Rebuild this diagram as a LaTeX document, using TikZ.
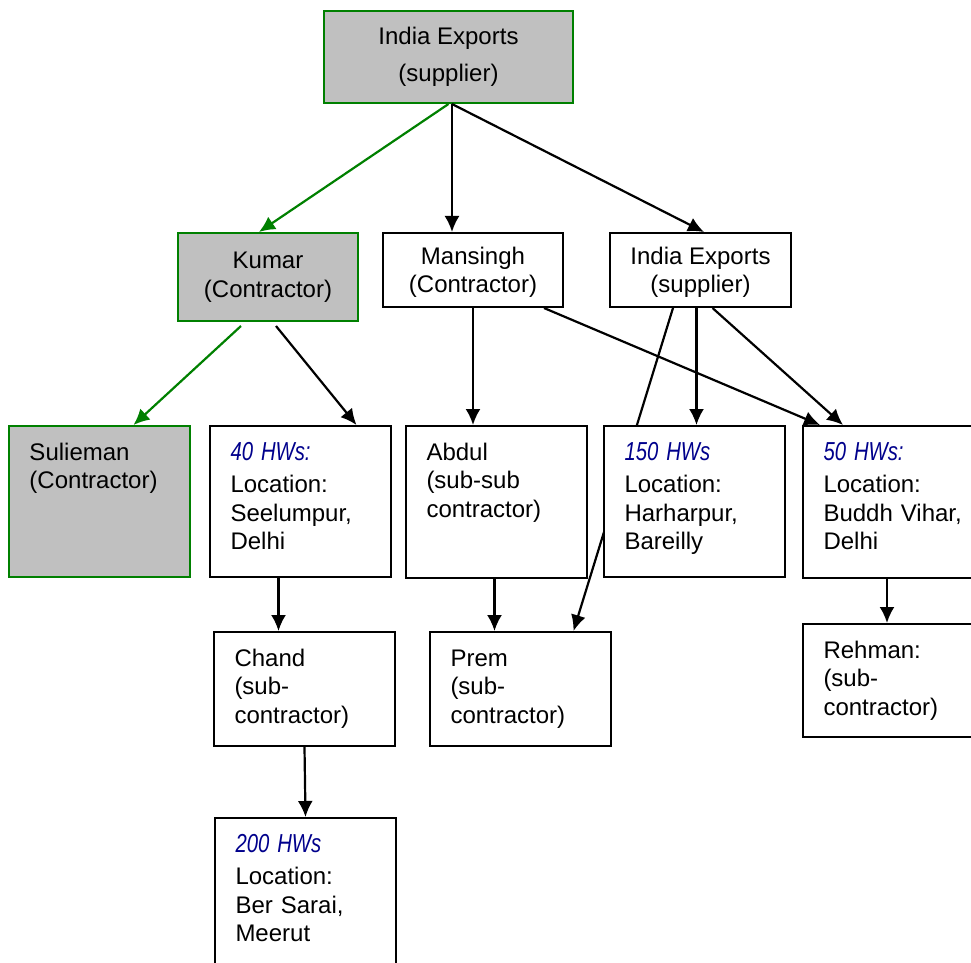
\documentclass[tikz,border=0pt]{standalone}
\usepackage{fontspec}
\setmainfont{Liberation Sans}
\newfontfamily\hwfont[FakeStretch=0.78]{Liberation Sans}
\usetikzlibrary{arrows.meta,backgrounds}

\definecolor{boxgreen}{RGB}{0,128,0}
\definecolor{boxgrey}{RGB}{192,192,192}
\definecolor{hwblue}{RGB}{0,0,140}
\newcommand{\hws}[1]{{\hwfont\itshape\fontsize{13}{14.25}\selectfont\color{hwblue}#1}}

\begin{document}
\begin{tikzpicture}[x=0.5pt,y=-0.5pt,
	font=\fontsize{12}{14.25}\selectfont,
	box/.style={draw,line width=1pt,fill=white,anchor=north west,inner sep=0pt},
	lbox/.style={box,align=left,text width=70pt,inner xsep=10.25pt,inner ysep=8pt,
		text height=9pt,text depth=#1},
	gbox/.style={draw=boxgreen,fill=boxgrey},
	arr/.style={line width=1.1pt,-{Latex[length=8pt,width=7.5pt]}},
	garr/.style={arr,boxgreen}]
\useasboundingbox (0,0) rectangle (971,963);

% supplier and contractors
\node[box,gbox,align=center,minimum width=124.5pt,minimum height=46pt] (exp) at (323,10)
	{India Exports\\[4pt](supplier)};
\node[box,gbox,align=center,minimum width=90pt,minimum height=44pt] (kumar) at (177,232)
	{Kumar\\(Contractor)};
\node[box,align=center,minimum width=90pt,minimum height=37pt,text depth=-2pt] (mansingh) at (382,232)
	{Mansingh\\(Contractor)};
\node[box,align=center,minimum width=90.5pt,minimum height=37pt,text depth=-2pt] (exp2) at (609,232)
	{India Exports\\(supplier)};

% third row
\node[lbox=50.5pt,gbox] (sulieman) at (8,425) {Sulieman\\(Contractor)};
\node[lbox=50.5pt] (hw40) at (209,425) {\hws{40 HWs:}\\[2pt]Location:\\Seelumpur,\\Delhi};
\node[lbox=51pt] (abdul) at (405,425) {Abdul\\(sub-sub\\contractor)};
\node[lbox=50.5pt] (hw150) at (603,425) {\hws{150 HWs}\\[2pt]Location:\\Harharpur,\\Bareilly};
\node[lbox=51pt] (hw50) at (802,425) {\hws{50 HWs:}\\[2pt]Location:\\Buddh Vihar,\\Delhi};

% sub-contractors
\node[lbox=32pt] (chand) at (213,631) {Chand\\(sub-\\contractor)};
\node[lbox=32pt] (prem) at (429,631) {Prem\\(sub-\\contractor)};
\node[lbox=31.5pt] (rehman) at (802,623) {Rehman:\\(sub-\\contractor)};
\node[lbox=55pt] (hw200) at (214,817) {\hws{200 HWs}\\[2pt]Location:\\Ber Sarai,\\Meerut};

% links
\draw[garr] (exp.south) -- ([xshift=-4.5pt]kumar.north);
\draw[arr] ([xshift=1.75pt]exp.south) -- ([xshift=1.75pt]exp.south |- mansingh.north);
\draw[arr] ([xshift=1.75pt]exp.south) -- ([xshift=1.75pt]exp2.north);
\draw[garr] ([xshift=-13.5pt,yshift=-2pt]kumar.south) -- ([xshift=17pt]sulieman.north);
\draw[arr] ([xshift=4pt,yshift=-2pt]kumar.south) -- ([xshift=28pt]hw40.north);
\draw[arr] (mansingh.south) -- (mansingh.south |- abdul.north);
\draw[arr] ([xshift=35.5pt]mansingh.south) -- ([xshift=9pt]hw50.north west);
\draw[arr] ([xshift=-2pt]exp2.south) -- ([xshift=-2pt]exp2.south |- hw150.north);
\draw[arr] ([xshift=6pt]exp2.south) -- ([xshift=20.5pt]hw50.north west);
\draw[arr] ([xshift=-11pt]hw40.south) -- ([xshift=-11pt]hw40.south |- chand.north);
\draw[arr] ([xshift=-1pt]abdul.south) -- ([xshift=-1pt]abdul.south |- prem.north);
\draw[arr] ([xshift=42.5pt]hw50.south west) -- ([xshift=42.5pt]hw50.south west |- rehman.north);
\draw[arr] (chand.south) -- (hw200.north);
\begin{scope}[on background layer]
\draw[arr] ([xshift=-13.75pt]exp2.south) -- ([xshift=26.5pt]prem.north);
\end{scope}
\end{tikzpicture}
\end{document}
